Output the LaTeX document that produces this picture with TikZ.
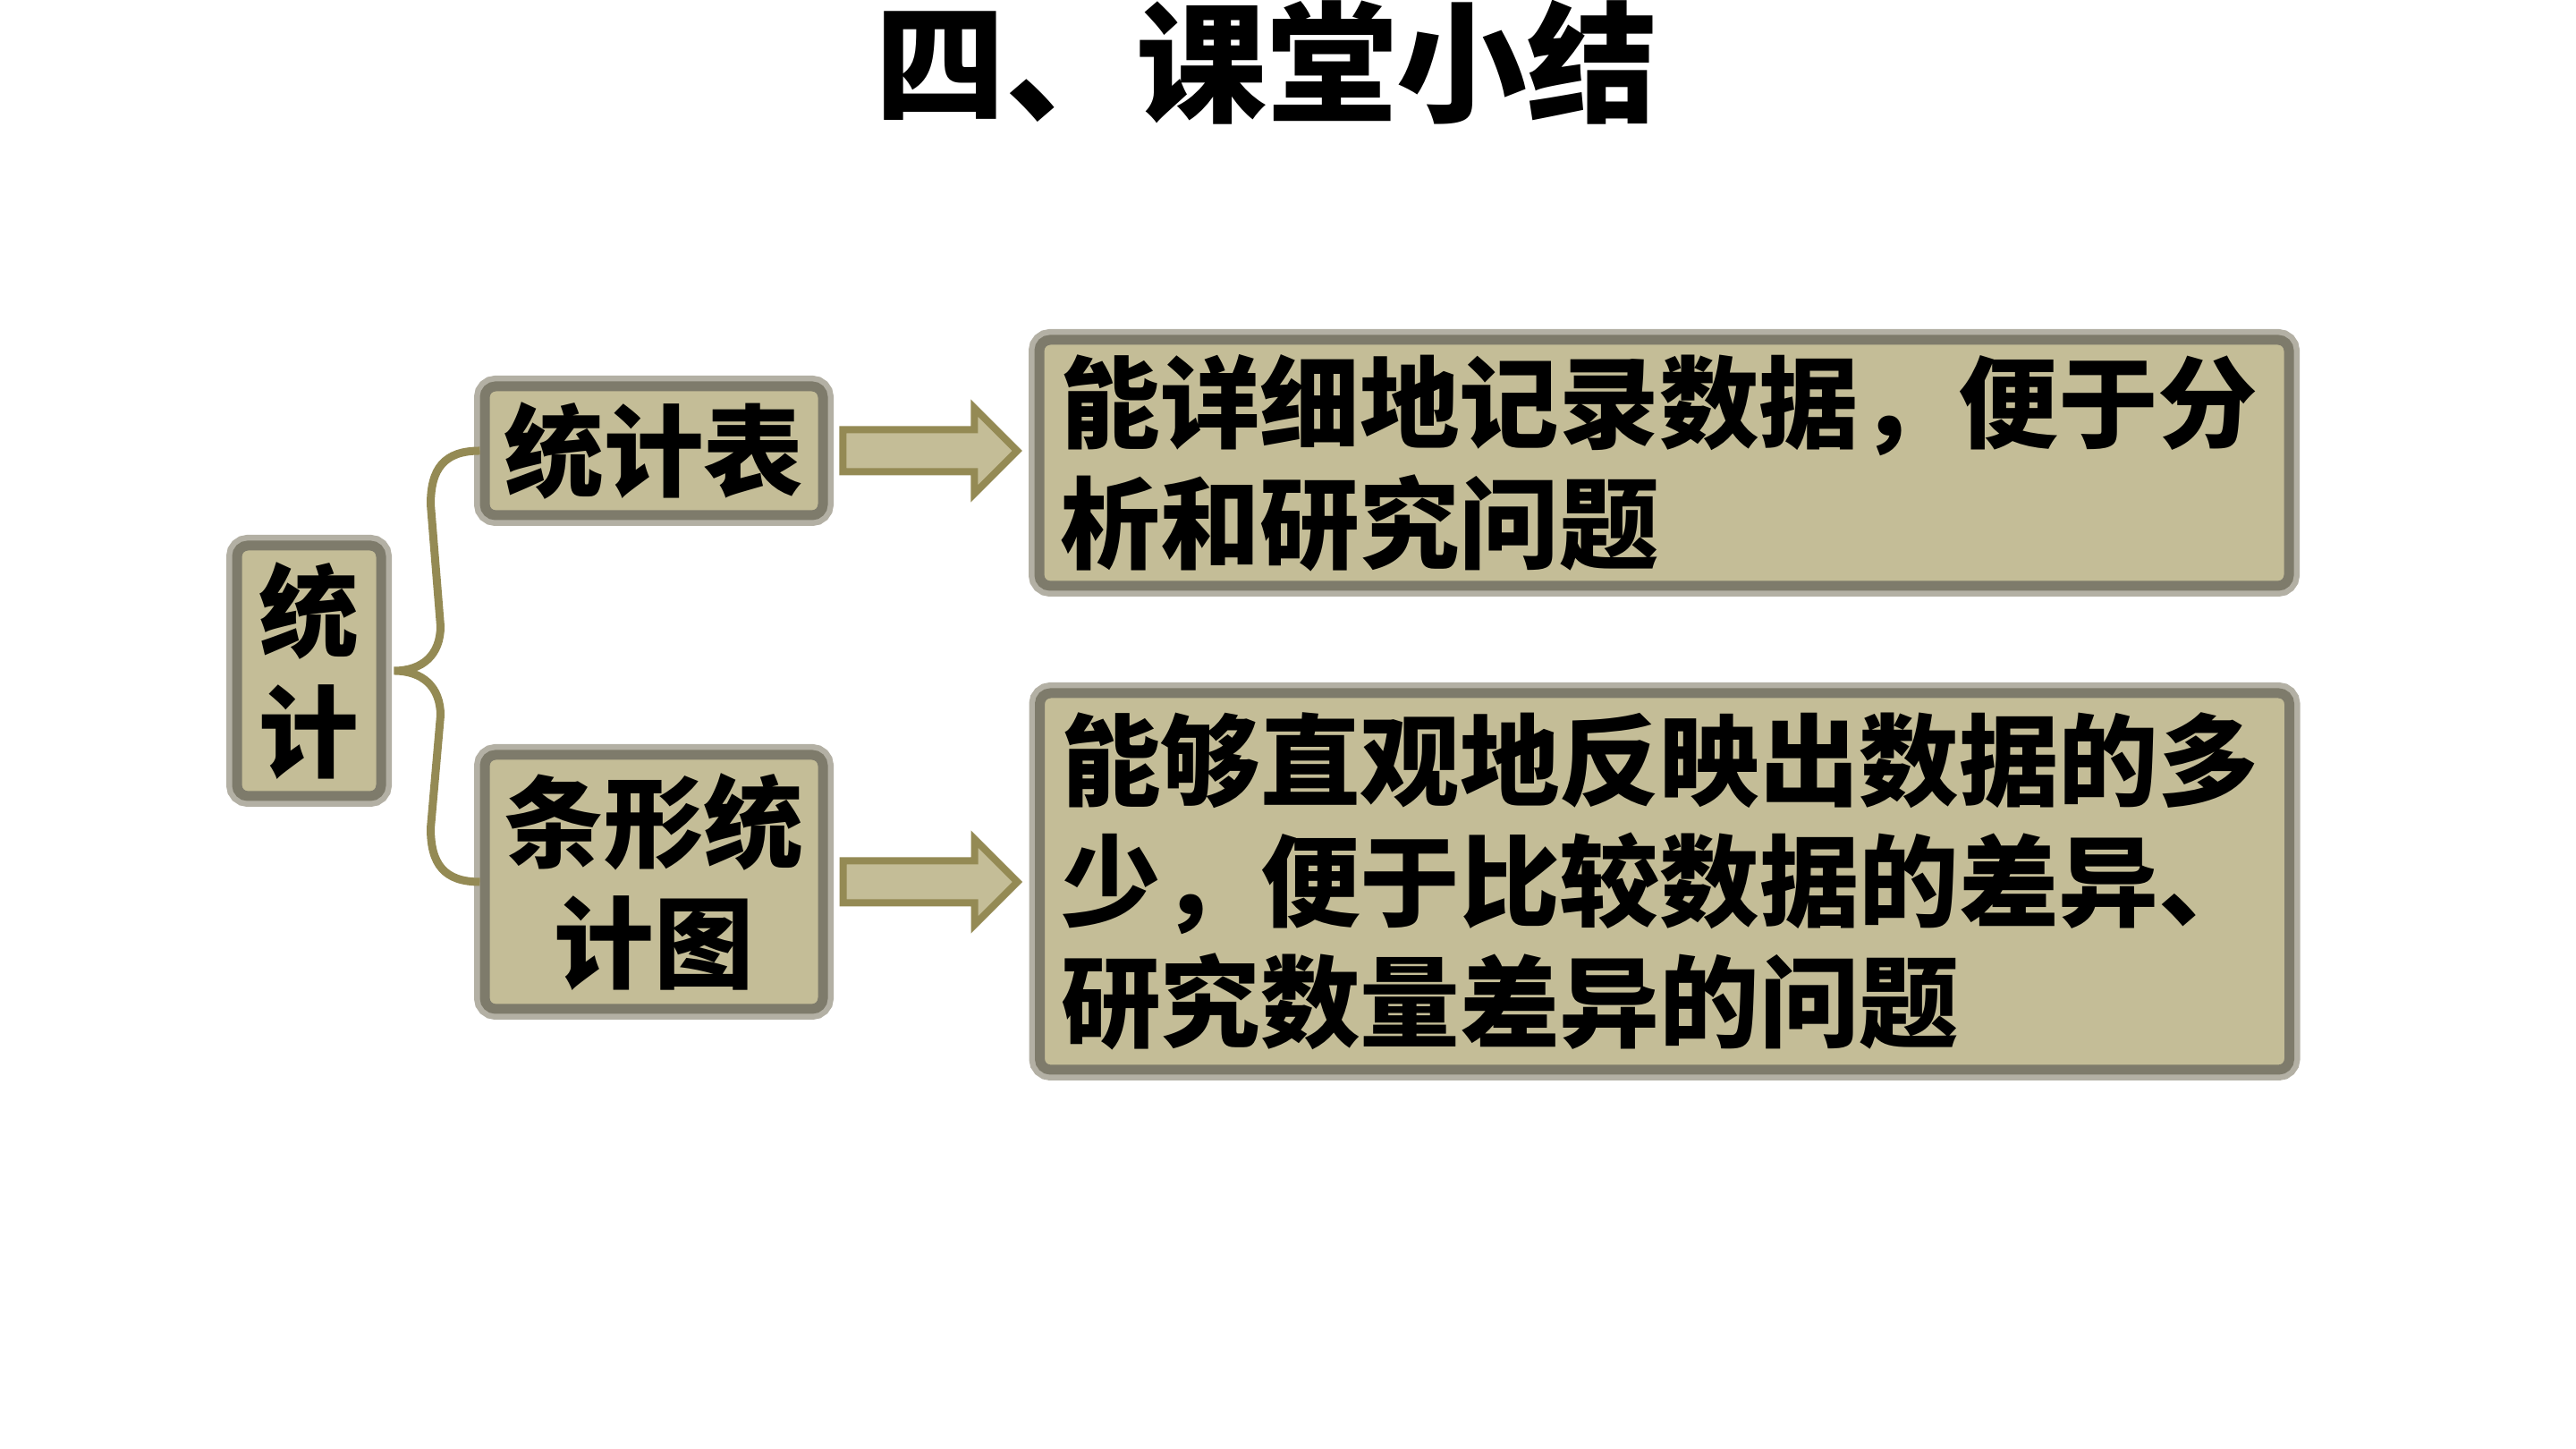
\documentclass[tikz,border=0pt]{standalone}
\usepackage{fontspec}
\newfontfamily\cjk{Noto Sans CJK SC}
\usepackage{tikz}
\usetikzlibrary{calc,shapes.arrows}
\definecolor{tanfill}{HTML}{C4BD97}
\definecolor{olivedk}{HTML}{948A54}
\definecolor{boxedge}{HTML}{7E7B6B}
\definecolor{boxglow}{HTML}{B3B0A4}
\tikzset{
  sumbox/.style={
    rectangle, rounded corners=0.12cm, fill=tanfill, draw=boxedge,
    line width=0.11cm, preaction={draw=boxglow, line width=0.24cm},
    inner sep=0pt, align=center,
    font=\cjk\bfseries\fontsize{31.75pt}{38.4pt}\selectfont
  },
  descbox/.style={
    sumbox, minimum width=13.97cm, text width=13.5cm, align=left
  },
  blockarrow/.style={
    single arrow, draw=olivedk, fill=tanfill, line width=0.08cm,
    minimum height=1.95cm, minimum width=0.88cm, xshift=-0.13cm,
    single arrow head extend=0.245cm, inner xsep=0pt, inner ysep=0.195cm
  },
  bracket/.style={
    draw=olivedk, line width=0.09cm
  },
  titletext/.style={
    inner sep=0pt, font=\cjk\bfseries\fontsize{41.5pt}{48pt}\selectfont
  },
}

\begin{document}
\begin{tikzpicture}
  \useasboundingbox (0,0) rectangle (28.8,16.2);
  % Title
  \node[titletext] (title) at (14.16,15.50) {四、课堂小结};

  % Left column
  \node[sumbox, minimum width=1.61cm, minimum height=2.80cm] (tongji) at (3.455,8.70) {统\\计};
  \node[sumbox, minimum width=3.78cm, minimum height=1.44cm] (biao) at (7.31,11.16) {统计表};
  \node[sumbox, minimum width=3.78cm, minimum height=2.84cm] (tu) at (7.31,6.34) {条形统\\计图};

  % Right column
  \node[descbox, minimum height=2.75cm] (descA) at (18.605,11.025)
    {能详细地记录数据，便于分\\析和研究问题};
  \node[descbox, minimum height=4.21cm] (descB) at (18.61,6.345)
    {能够直观地反映出数据的多\\少，便于比较数据的差异、\\研究数量差异的问题};

  % Brace
  \coordinate (tip) at ($(tongji.east)+(0.09,0)$);
  \draw[bracket] (biao.west) .. controls +(-0.4,0) and +(0,0.4) .. ++(-0.55,-0.6)
    -- ($(tip)+(0.52,0.5)$) .. controls +(0,-0.32) and +(0.32,0) .. (tip)
    .. controls +(0.32,0) and +(0,0.32) .. ($(tip)+(0.52,-0.5)$)
    -- ($(tu.west)+(-0.55,0.6)$) .. controls +(0,-0.4) and +(-0.4,0) .. (tu.west);

  % Arrows
  \node[blockarrow] (arrA) at ($(biao.east)!0.5!(biao.east -| descA.west)$) {};
  \node[blockarrow] (arrB) at ($(tu.east)!0.5!(tu.east -| descB.west)$) {};
\end{tikzpicture}
\end{document}
